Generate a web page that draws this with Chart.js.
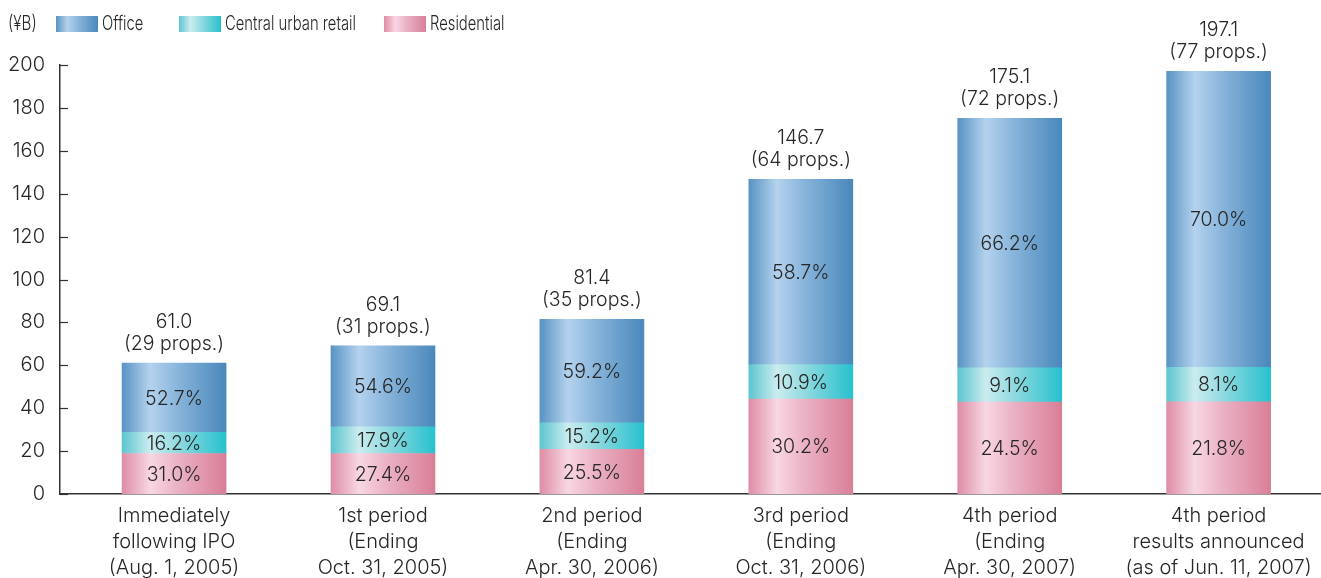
<!DOCTYPE html>
<html>
<head>
<meta charset="utf-8">
<script src="https://cdn.jsdelivr.net/npm/chart.js@4/dist/chart.umd.min.js"></script>
<style>
  html, body { margin: 0; padding: 0; background: #fff; }
  #wrap { width: 1321px; height: 578px; position: relative; }
</style>
</head>
<body>
<div id="wrap"><canvas id="assetChart"></canvas></div>
<script>
// chart data (¥B)
const categories = [
  ['Immediately', 'following IPO', '(Aug. 1, 2005)'],
  ['1st period', '(Ending', 'Oct. 31, 2005)'],
  ['2nd period', '(Ending', 'Apr. 30, 2006)'],
  ['3rd period', '(Ending', 'Oct. 31, 2006)'],
  ['4th period', '(Ending', 'Apr. 30, 2007)'],
  ['4th period', 'results announced', '(as of Jun. 11, 2007)']
];
const totals = ['61.0', '69.1', '81.4', '146.7', '175.1', '197.1'];
const propCounts = [29, 31, 35, 64, 72, 77];

const residential = [18.9, 18.9, 20.8, 44.3, 42.9, 43.0];
const retail = [9.9, 12.4, 12.4, 16.0, 15.9, 16.0];
const office = [32.2, 37.8, 48.2, 86.4, 116.3, 138.1];

const residentialPct = ['31.0%', '27.4%', '25.5%', '30.2%', '24.5%', '21.8%'];
const retailPct = ['16.2%', '17.9%', '15.2%', '10.9%', '9.1%', '8.1%'];
const officePct = ['52.7%', '54.6%', '59.2%', '58.7%', '66.2%', '70.0%'];

const yTicks = [0, 20, 40, 60, 80, 100, 120, 140, 160, 180, 200];

const FONT = 'Inter, "Liberation Sans", Arial, sans-serif';
const TEXT = '#262626';
const BAR_W = 104;

const officeStops = [[0, '#5893c3'], [0.27, '#b4d2ee'], [0.55, '#86b3da'], [1, '#4a88bb']];
const retailStops = [[0, '#5cc5cf'], [0.27, '#cbecef'], [0.55, '#8ed9df'], [1, '#27c1ce']];
const residentialStops = [[0, '#de8da5'], [0.27, '#f8d6e3'], [0.55, '#eab0c3'], [1, '#d97f98']];

function makeGradient(c2d, x0, x1, stops) {
    const g = c2d.createLinearGradient(x0, 0, x1, 0);
    stops.forEach(s => g.addColorStop(s[0], s[1]));
    return g;
}

function barFill(stops) {
    return function (ctx) {
        const chart = ctx.chart;
        const xs = chart.scales.x;
        if (!xs || ctx.dataIndex === undefined) return stops[1][1];
        const cx = xs.getPixelForValue(ctx.dataIndex);
        if (!isFinite(cx)) return stops[1][1];
        return makeGradient(chart.ctx, cx - BAR_W / 2, cx + BAR_W / 2, stops);
    };
}

const labelPlugin = {
    id: 'labelPlugin',
    afterDatasetsDraw(chart) {
        const c = chart.ctx;
        const pcts = [residentialPct, retailPct, officePct];
        c.save();
        c.fillStyle = TEXT;
        c.textAlign = 'center';
        c.textBaseline = 'middle';
        c.font = '300 19.5px ' + FONT;
        chart.data.datasets.forEach((ds, di) => {
            chart.getDatasetMeta(di).data.forEach((bar, i) => {
                c.fillText(pcts[di][i], bar.x, (bar.y + bar.base) / 2 + 1);
            });
        });
        // totals above the bars
        const ys = chart.scales.y;
        const top = chart.getDatasetMeta(2).data;
        top.forEach((bar, i) => {
            c.fillText(totals[i], bar.x, bar.y - 41);
            c.fillText('(' + propCounts[i] + ' props.)', bar.x, bar.y - 19);
        });
        // small tick marks inside the y axis
        c.strokeStyle = '#333';
        c.lineWidth = 1.2;
        yTicks.forEach(v => {
            const py = Math.round(ys.getPixelForValue(v)) + 0.5;
            c.beginPath();
            c.moveTo(chart.chartArea.left, py);
            c.lineTo(chart.chartArea.left + 8, py);
            c.stroke();
        });
        c.restore();
    },
    afterDraw(chart) {
        const c = chart.ctx;
        c.save();
        c.fillStyle = TEXT;
        c.textBaseline = 'middle';
        c.textAlign = 'left';
        c.font = '300 20px ' + FONT;
        c.save();
        c.translate(8, 24);
        c.scale(0.76, 1);
        c.fillText('(¥B)', 0, 0);
        c.restore();
        const items = [
            { x: 56, text: 'Office', stops: officeStops },
            { x: 179, text: 'Central urban retail', stops: retailStops },
            { x: 384, text: 'Residential', stops: residentialStops }
        ];
        items.forEach(it => {
            c.fillStyle = makeGradient(c, it.x, it.x + 42, it.stops);
            c.fillRect(it.x, 16, 42, 16);
            c.fillStyle = TEXT;
            c.save();
            c.translate(it.x + 46, 24);
            c.scale(0.74, 1);
            c.fillText(it.text, 0, 0);
            c.restore();
        });
        c.restore();
    }
};

const ctx = document.getElementById('assetChart').getContext('2d');
const assetChart = new Chart(ctx, {
    type: 'bar',
    data: {
        datasets: [
            { label: 'Residential', data: residential.map((v, i) => ({ x: i, y: v })), backgroundColor: barFill(residentialStops) },
            { label: 'Central urban retail', data: retail.map((v, i) => ({ x: i, y: v })), backgroundColor: barFill(retailStops) },
            { label: 'Office', data: office.map((v, i) => ({ x: i, y: v })), backgroundColor: barFill(officeStops) }
        ]
    },
    options: {
        responsive: true,
        maintainAspectRatio: false,
        animation: false,
        barThickness: BAR_W,
        borderWidth: 0,
        layout: { padding: { top: 65, right: 0, bottom: 0, left: 0 } },
        plugins: {
            legend: { display: false },
            tooltip: { enabled: false }
        },
        scales: {
            x: {
                type: 'linear',
                stacked: true,
                offset: false,
                min: -0.546,
                max: 5.49,
                afterBuildTicks: scale => { scale.ticks = categories.map((_, i) => ({ value: i })); },
                afterFit: scale => { scale.height = 84; },
                grid: { display: false, drawTicks: false },
                border: { display: true, color: '#333', width: 1.5 },
                ticks: {
                    autoSkip: false,
                    maxRotation: 0,
                    padding: 9,
                    color: TEXT,
                    font: { family: FONT, size: 20, weight: 300, lineHeight: 1.3 },
                    callback: v => categories[v]
                }
            },
            y: {
                stacked: true,
                min: 0,
                max: 200,
                afterBuildTicks: scale => { scale.ticks = yTicks.map(v => ({ value: v })); },
                afterFit: scale => { scale.width = 60; },
                grid: { display: false, drawTicks: false },
                border: { display: true, color: '#333', width: 1.5 },
                ticks: {
                    padding: 15,
                    color: TEXT,
                    font: { family: FONT, size: 20, weight: 300 }
                }
            }
        }
    },
    plugins: [labelPlugin]
});
</script>
</body>
</html>
